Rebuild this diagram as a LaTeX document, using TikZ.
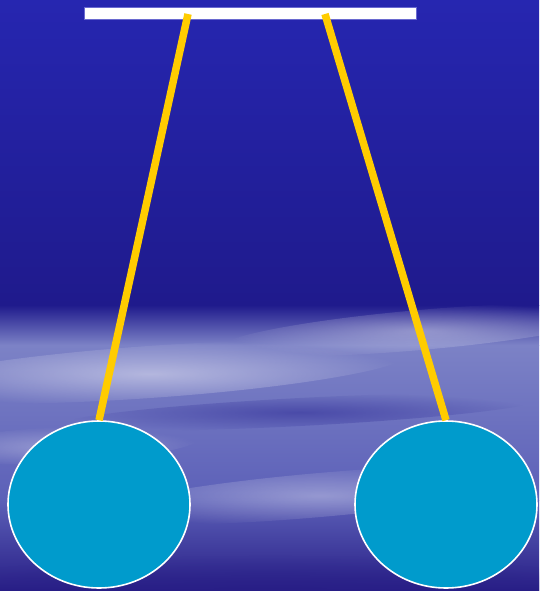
\documentclass[tikz,border=0pt]{standalone}
\usepackage{tikz}
\usetikzlibrary{shapes.geometric,fadings}

\definecolor{skytop}{HTML}{2626B0}
\definecolor{skydark}{HTML}{1F1A8C}
\definecolor{skylight}{HTML}{7C82C6}
\definecolor{skymid}{HTML}{5C60B8}
\definecolor{skybot}{HTML}{281E86}
\definecolor{ballblue}{HTML}{009BCC}
\definecolor{cord}{HTML}{FFCC00}
\definecolor{barrim}{HTML}{6A6AD0}

\tikzfading[name=softedge, inner color=transparent!0, outer color=transparent!100]

\tikzset{
  ball/.style={ellipse, draw=white, line width=1.6pt, fill=ballblue,
    minimum width=182pt, minimum height=167pt, inner sep=0pt},
  string/.style={cord, line width=7.5pt},
  streak/.style={white, path fading=softedge}
}

\begin{document}
\begin{tikzpicture}[x=1pt,y=-1pt]
    \useasboundingbox (0,0) rectangle (539,591);
    \shade[top color=skytop, bottom color=skydark] (0,0) rectangle (539,305);
    \shade[top color=skydark, bottom color=skylight] (0,305) rectangle (539,345);
    \shade[top color=skylight, bottom color=skymid] (0,345) rectangle (539,500);
    \shade[top color=skymid, bottom color=skybot] (0,500) rectangle (539,591);
    \fill[streak, opacity=0.45, rotate around={4:(150,372)}] (150,372) ellipse (260 and 26);
    \fill[streak, opacity=0.35, rotate around={5:(420,330)}] (420,330) ellipse (200 and 20);
    \fill[streak, opacity=0.35, rotate around={5:(320,495)}] (320,495) ellipse (230 and 22);
    \fill[streak, opacity=0.30, rotate around={3:(60,445)}] (60,445) ellipse (140 and 18);
    \fill[skydark, path fading=softedge, opacity=0.45, rotate around={3:(300,412)}] (300,412) ellipse (240 and 14);
    \fill[skybot, path fading=softedge, opacity=0.6] (270,590) ellipse (360 and 35);

    \node[draw=barrim, line width=0.8pt, fill=white, minimum width=332pt,
      minimum height=12pt, inner sep=0pt] (bar) at (250,13) {};
    \coordinate (hookL) at (188,14);
    \coordinate (hookR) at (325,14);

    \node[ball] (ballL) at (99,504.5) {};
    \node[ball] (ballR) at (446,504.5) {};

    \draw[string] (hookL) -- (ballL.north);
    \draw[string] (hookR) -- (ballR.north);
\end{tikzpicture}
\end{document}
